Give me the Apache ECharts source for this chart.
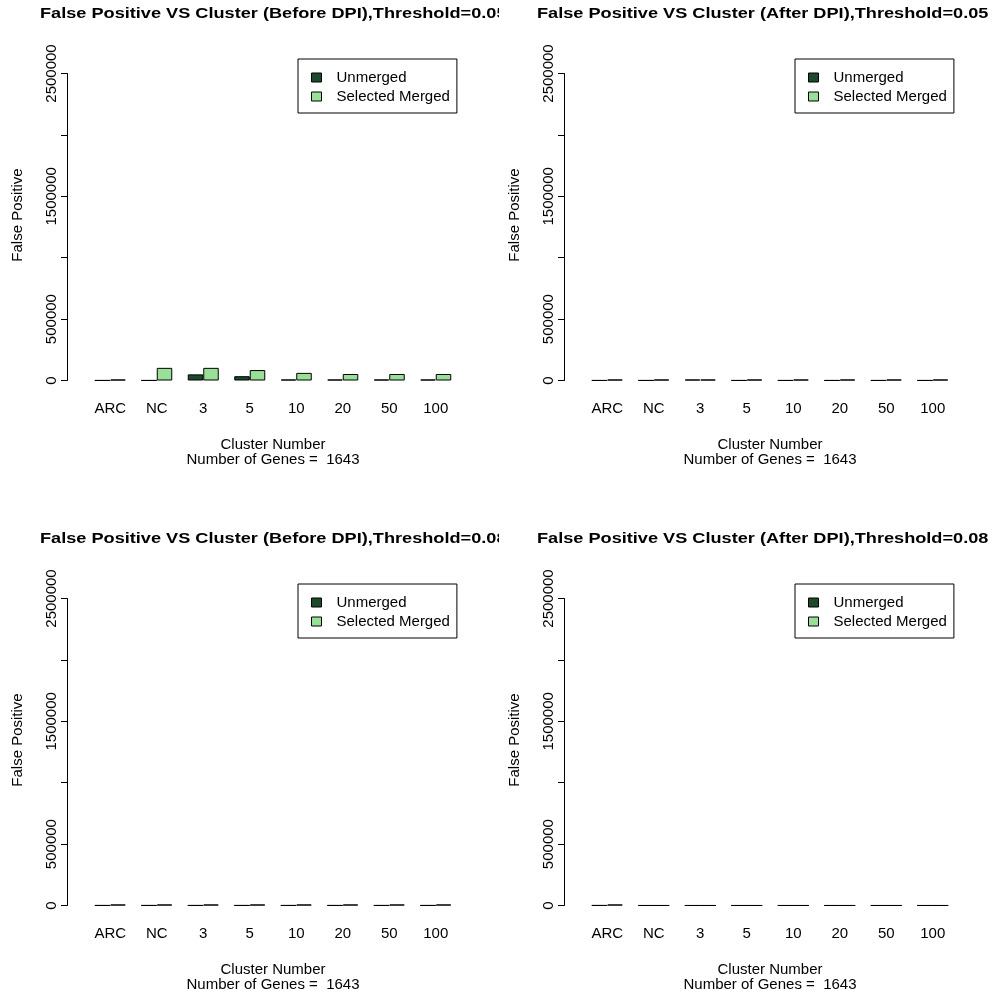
<!DOCTYPE html>
<html>
<head>
<meta charset="utf-8">
<title>False Positive VS Cluster</title>
<script src="https://cdn.jsdelivr.net/npm/echarts@6/dist/echarts.min.js"></script>
<style>
  html, body { margin: 0; padding: 0; background: #ffffff; }
  .panel { position: absolute; overflow: hidden; background: #ffffff; }
</style>
</head>
<body>
<div id="p1" class="panel" style="left:0;top:0;width:499px;height:525px"></div>
<div id="p2" class="panel" style="left:499px;top:0;width:499px;height:525px"></div>
<div id="p3" class="panel" style="left:0;top:525px;width:499px;height:474px"></div>
<div id="p4" class="panel" style="left:499px;top:525px;width:499px;height:474px"></div>
<script>
// Cluster categories along the x axis
const categories = ['ARC', 'NC', '3', '5', '10', '20', '50', '100'];

// Y axis labels that are printed (the 1000000 / 2000000 ticks carry no label)
const yLabelValues = [0, 500000, 1500000, 2500000];

// Panel titles
const titles = [
  'False Positive VS Cluster (Before DPI),Threshold=0.05',
  'False Positive VS Cluster (After DPI),Threshold=0.05',
  'False Positive VS Cluster (Before DPI),Threshold=0.08',
  'False Positive VS Cluster (After DPI),Threshold=0.08'
];

const xTitle = 'Cluster Number\nNumber of Genes =  1643';
const yTitle = 'False Positive';
const seriesNames = ['Unmerged', 'Selected Merged'];

// False positive counts per cluster setting
const unmergedBefore005 = [1000, 1000, 50000, 35000, 8000, 8000, 8000, 8000];
const mergedBefore005   = [8000, 103000, 103000, 85000, 62000, 53000, 53000, 53000];

const unmergedAfter005  = [1000, 1000, 8000, 1000, 1000, 1000, 1000, 1000];
const mergedAfter005    = [8000, 8000, 8000, 8000, 8000, 8000, 8000, 8000];

const unmergedBefore008 = [1000, 1000, 1000, 1000, 1000, 1000, 1000, 1000];
const mergedBefore008   = [8000, 8000, 8000, 8000, 8000, 8000, 8000, 8000];

const unmergedAfter008  = [1000, 500, 500, 500, 500, 500, 500, 500];
const mergedAfter008    = [8000, 500, 500, 500, 500, 500, 500, 500];

const FONT = '"Liberation Sans", Arial, sans-serif';
const DARK = '#1c4a2a';
const LIGHT = '#98e098';

function buildOption(title, unmerged, merged, dx, titleX) {
  return {
    animation: false,
    backgroundColor: '#ffffff',
    textStyle: { fontFamily: FONT, color: '#000' },
    graphic: [
      {
        // bold main title, drawn slightly widened
        type: 'text',
        x: titleX,
        y: 14,
        scaleX: 1.21,
        style: {
          text: title,
          font: 'bold 15px ' + FONT,
          fill: '#000',
          textAlign: 'left',
          textVerticalAlign: 'middle'
        }
      },
      {
        // y axis title, reading bottom to top
        type: 'text',
        x: 18 + dx,
        y: 215,
        rotation: Math.PI / 2,
        style: {
          text: yTitle,
          font: '15px ' + FONT,
          fill: '#000',
          textAlign: 'center',
          textVerticalAlign: 'middle'
        }
      }
    ],
    legend: {
      orient: 'vertical',
      left: 298 + dx,
      top: 59,
      itemWidth: 10,
      itemHeight: 9,
      itemGap: 4,
      padding: [11, 7, 9, 13],
      borderColor: '#000',
      borderWidth: 1,
      icon: 'rect',
      selectedMode: false,
      itemStyle: { borderColor: '#000', borderWidth: 1 },
      textStyle: { fontFamily: FONT, fontSize: 15, color: '#000', lineHeight: 14, padding: [0, 0, 0, 10] },
      data: seriesNames
    },
    grid: { left: 87 + dx, top: 73.5, width: 372, height: 307 },
    xAxis: {
      type: 'category',
      data: categories,
      axisLine: { show: false },
      axisTick: { show: false },
      axisLabel: { interval: 0, margin: 21, fontSize: 15, color: '#000', fontFamily: FONT },
      name: xTitle,
      nameLocation: 'middle',
      nameGap: 57,
      nameTextStyle: { fontSize: 15, lineHeight: 15, color: '#000', fontFamily: FONT }
    },
    yAxis: {
      type: 'value',
      min: 0,
      max: 2500000,
      interval: 500000,
      offset: 20,
      axisLine: { show: true, lineStyle: { color: '#000', width: 1 } },
      axisTick: { show: true, length: 6, lineStyle: { color: '#000', width: 1 } },
      splitLine: { show: false },
      axisLabel: {
        rotate: 90,
        margin: 8,
        fontSize: 15,
        color: '#000',
        fontFamily: FONT,
        formatter: function (v) { return yLabelValues.indexOf(v) >= 0 ? String(v) : ''; }
      }
    },
    series: [
      {
        type: 'bar',
        name: seriesNames[0],
        data: unmerged,
        barWidth: 15.5,
        barGap: '0%',
        itemStyle: { color: DARK, borderColor: '#000', borderWidth: 1 }
      },
      {
        type: 'bar',
        name: seriesNames[1],
        data: merged,
        barWidth: 15.5,
        barGap: '0%',
        itemStyle: { color: LIGHT, borderColor: '#000', borderWidth: 1 }
      }
    ]
  };
}

const panels = [
  ['p1', titles[0], unmergedBefore005, mergedBefore005, 0, 40],
  ['p2', titles[1], unmergedAfter005, mergedAfter005, -2, 38],
  ['p3', titles[2], unmergedBefore008, mergedBefore008, 0, 40],
  ['p4', titles[3], unmergedAfter008, mergedAfter008, -2, 38]
];

panels.forEach(function (p) {
  const chart = echarts.init(document.getElementById(p[0]), null, { renderer: 'canvas' });
  chart.setOption(buildOption(p[1], p[2], p[3], p[4], p[5]));
});
</script>
</body>
</html>
